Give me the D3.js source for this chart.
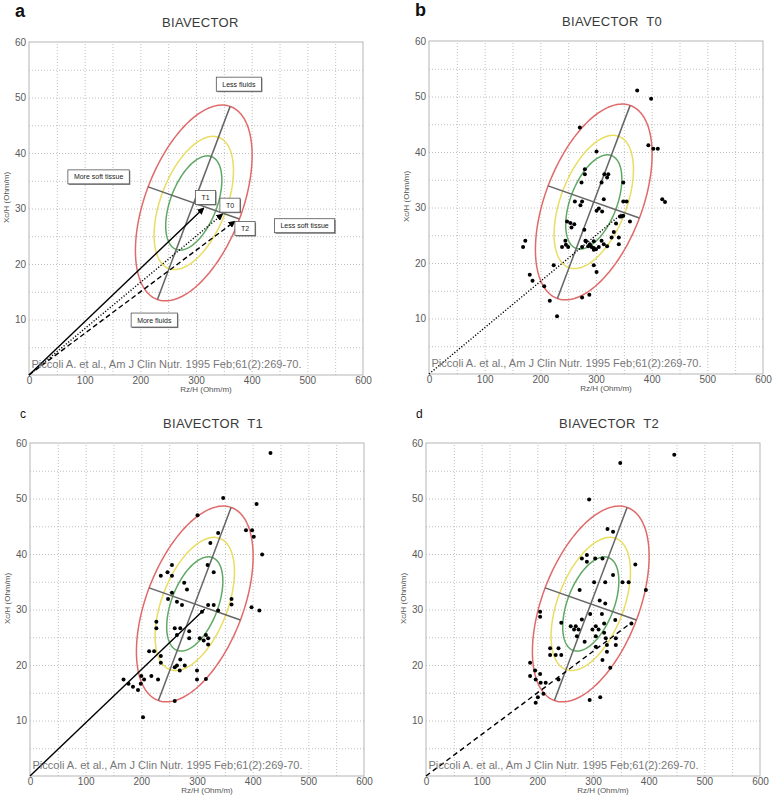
<!DOCTYPE html>
<html lang="en">
<head>
<meta charset="utf-8">
<title>BIAVECTOR</title>
<script src="https://cdn.jsdelivr.net/npm/d3@7"></script>
<style>
body { margin: 0; background: #fff; }
text { font-family: "Liberation Sans", Arial, sans-serif; }
</style>
</head>
<body>
<script>
// reference ellipse (Piccoli) in data units
var ellipseCenter = [296, 31];
var majorAxisEnd = [361.3, 48.4];
var minorAxisEnd = [378, 28.1];
var tolerance = [0.95, 0.75, 0.50];
var toleranceColors = ["#e06a6a", "#e9dd62", "#5fa864"];

// mean vectors
var vectorT0 = [348, 29.0];
var vectorT1 = [314, 30.1];
var vectorT2 = [370, 27.7];

var xTicks = [0, 100, 200, 300, 400, 500, 600];
var yTicks = [10, 20, 30, 40, 50, 60];
var xGrid = [50, 100, 150, 200, 250, 300, 350, 400, 450, 500, 550];
var yGrid = [5, 10, 15, 20, 25, 30, 35, 40, 45, 50, 55];

var pointsT0 = [
	[374, 51.1], [399, 49.6], [271, 44.4], [394, 41.2], [403, 40.6], [411, 40.6], [301, 40.1],
	[280, 36.9], [280, 36.0], [315, 36.0], [322, 36.0], [320, 35.4], [310, 34.5], [274, 34.5],
	[349, 34.5], [314, 31.5], [262, 31.1], [275, 31.1], [272, 30.4], [349, 31.1], [355, 31.1],
	[419, 31.5], [424, 31.0], [301, 29.4], [305, 29.8], [311, 29.3], [248, 27.5], [254, 27.2],
	[261, 27.0], [256, 26.4], [279, 26.0], [343, 28.4], [346, 28.4], [349, 28.5], [361, 27.5],
	[336, 27.1], [332, 25.6], [328, 24.6], [341, 24.6], [341, 23.4], [245, 24.0], [246, 23.3],
	[250, 22.9], [239, 22.9], [275, 22.9], [281, 24.0], [286, 23.0], [289, 23.4], [292, 22.9],
	[296, 23.9], [296, 22.7], [305, 22.9], [310, 24.0], [314, 23.4], [296, 22.4], [169, 22.9],
	[173, 24.0], [224, 19.6], [296, 19.6], [301, 18.4], [181, 17.9], [186, 16.8], [207, 15.8],
	[217, 13.2], [275, 13.8], [288, 14.3], [230, 10.4], [282, 23.9], [300, 22.5], [320, 23.0]
];
var pointsT1 = [
	[432, 58.2], [347, 50.1], [407, 49.0], [301, 47.0], [388, 44.3], [399, 44.3], [402, 43.1],
	[338, 43.8], [324, 42.0], [417, 39.9], [255, 38.0], [319, 38.0], [247, 36.7], [255, 36.1],
	[235, 36.1], [330, 36.7], [277, 34.8], [282, 33.6], [255, 33.0], [248, 31.9], [264, 31.4],
	[273, 30.8], [320, 30.8], [330, 30.8], [362, 31.9], [362, 30.9], [398, 30.4], [412, 29.8],
	[338, 29.8], [309, 29.6], [227, 27.8], [227, 26.6], [260, 26.6], [270, 26.6], [286, 26.1],
	[286, 24.8], [305, 24.8], [312, 24.4], [316, 25.4], [320, 24.8], [320, 23.7], [264, 25.4],
	[214, 22.5], [223, 22.5], [235, 21.6], [235, 20.4], [270, 21.0], [269, 19.0], [264, 19.9],
	[260, 19.6], [278, 19.9], [300, 19.0], [300, 17.4], [316, 17.5], [218, 18.0], [230, 17.4],
	[200, 18.0], [205, 17.4], [168, 17.4], [177, 16.6], [185, 16.1], [194, 15.5], [199, 16.6],
	[260, 13.5], [203, 10.6]
];
var pointsT2 = [
	[446, 57.9], [349, 56.4], [293, 49.8], [326, 44.5], [336, 44.0], [289, 39.8], [280, 39.2],
	[289, 38.6], [304, 39.2], [317, 39.2], [376, 38.1], [336, 36.2], [302, 34.9], [322, 34.9],
	[353, 34.9], [364, 34.9], [276, 33.5], [395, 33.5], [312, 31.6], [322, 31.1], [205, 29.6],
	[205, 28.7], [295, 29.2], [316, 29.2], [340, 28.1], [369, 27.5], [243, 27.6], [260, 27.0],
	[269, 27.0], [266, 26.4], [274, 26.4], [280, 28.2], [271, 25.2], [299, 26.4], [305, 27.0],
	[310, 26.4], [320, 27.5], [320, 25.8], [305, 25.2], [285, 24.2], [323, 24.8], [341, 24.8],
	[341, 23.6], [325, 23.6], [305, 23.3], [325, 22.4], [223, 23.0], [238, 23.0], [223, 21.8],
	[233, 21.8], [243, 21.8], [317, 20.9], [331, 19.5], [187, 20.4], [187, 18.0], [196, 19.0],
	[197, 17.4], [205, 18.4], [206, 16.8], [215, 16.8], [238, 17.4], [211, 14.8], [201, 14.2],
	[197, 13.2], [294, 13.7], [313, 14.2]
];

var annotations = [
	{ text: "Less fluids", x: 377, y: 52.4 },
	{ text: "More soft tissue", x: 125, y: 35.7 },
	{ text: "T1", x: 317, y: 32.0 },
	{ text: "T0", x: 361, y: 30.6 },
	{ text: "T2", x: 388, y: 26.4 },
	{ text: "Less soft tissue", x: 495, y: 26.9 },
	{ text: "More fluids", x: 225, y: 9.9 }
];

var citation = "Piccoli A. et al., Am J Clin Nutr. 1995 Feb;61(2):269-70.";

var panels = [
	{ letter: "a", bold: true, title: "BIAVECTOR", left: 29, top: 42, points: [],
	  vectors: [{ v: vectorT1, dash: null }, { v: vectorT0, dash: "1.2,1.8" }, { v: vectorT2, dash: "5,3" }],
	  arrows: true, notes: true },
	{ letter: "b", bold: true, title: "BIAVECTOR  T0", left: 429, top: 41, points: pointsT0,
	  vectors: [{ v: vectorT0, dash: "1.2,1.8" }], arrows: false, notes: false },
	{ letter: "c", bold: false, title: "BIAVECTOR  T1", left: 30, top: 443, points: pointsT1,
	  vectors: [{ v: vectorT1, dash: null }], arrows: false, notes: false },
	{ letter: "d", bold: false, title: "BIAVECTOR  T2", left: 426, top: 443, points: pointsT2,
	  vectors: [{ v: vectorT2, dash: "5,3.5" }], arrows: false, notes: false }
];

var W = 778, H = 801, pw = 334, ph = 333;

var svg = d3.select("body").append("svg")
	.attr("width", W)
	.attr("height", H);

svg.append("rect").attr("width", W).attr("height", H).attr("fill", "white");

svg.append("defs").append("marker")
	.attr("id", "arrow")
	.attr("viewBox", "0 0 10 10")
	.attr("refX", 9).attr("refY", 5)
	.attr("markerWidth", 5).attr("markerHeight", 5)
	.attr("orient", "auto")
	.append("path")
	.attr("d", "M0,0 L10,5 L0,10 z")
	.attr("fill", "black");

var chi95 = Math.sqrt(-2 * Math.log(1 - tolerance[0]));

panels.forEach(function(p) {
	var x = d3.scaleLinear().domain([0, 600]).range([0, pw]);
	var y = d3.scaleLinear().domain([0, 60]).range([ph, 0]);
	var g = svg.append("g").attr("transform", "translate(" + p.left + "," + p.top + ")");

	// panel letter and title
	svg.append("text")
		.attr("x", p.bold ? p.left - 14 : p.left - 10)
		.attr("y", p.top - 25)
		.attr("font-size", p.bold ? 18 : 12)
		.attr("font-weight", p.bold ? "bold" : "normal")
		.attr("fill", "#111")
		.text(p.letter);
	g.append("text")
		.attr("x", 133)
		.attr("y", -15.5)
		.attr("font-size", 13)
		.attr("letter-spacing", 0.3)
		.attr("fill", "#3a3a3a")
		.style("white-space", "pre")
		.text(p.title);

	// grid
	g.append("g")
		.attr("transform", "translate(0," + ph + ")")
		.call(d3.axisBottom(x).tickValues(xGrid).tickSize(-ph).tickFormat(""))
		.call(function(a) { a.select(".domain").remove(); })
		.selectAll("line").attr("stroke", "#c0c0c0").attr("stroke-dasharray", "1,2");
	g.append("g")
		.call(d3.axisLeft(y).tickValues(yGrid).tickSize(-pw).tickFormat(""))
		.call(function(a) { a.select(".domain").remove(); })
		.selectAll("line").attr("stroke", "#c0c0c0").attr("stroke-dasharray", "1,2");

	g.append("rect")
		.attr("width", pw).attr("height", ph)
		.attr("fill", "none").attr("stroke", "#b5b5b5");

	// tick labels
	var xa = g.append("g")
		.attr("transform", "translate(0," + ph + ")")
		.call(d3.axisBottom(x).tickValues(xTicks).tickSize(0).tickPadding(2));
	xa.select(".domain").remove();
	xa.selectAll("text").attr("font-size", 10).attr("font-family", null).attr("fill", "#5a5a5a");
	var ya = g.append("g")
		.call(d3.axisLeft(y).tickValues(yTicks).tickSize(0).tickPadding(3));
	ya.select(".domain").remove();
	ya.selectAll("text").attr("font-size", 10).attr("font-family", null).attr("fill", "#5a5a5a");

	g.append("text")
		.attr("x", pw / 2 + 10).attr("y", ph + 17)
		.attr("text-anchor", "middle")
		.attr("font-size", 8).attr("fill", "#555")
		.text("Rz/H (Ohm/m)");
	g.append("text")
		.attr("transform", "translate(-20," + (ph / 2 - 11) + ") rotate(-90)")
		.attr("text-anchor", "middle")
		.attr("font-size", 8).attr("fill", "#555")
		.text("Xc/H (Ohm/m)");

	// tolerance ellipses
	var c = ellipseCenter;
	var M = [majorAxisEnd[0] - c[0], majorAxisEnd[1] - c[1]];
	var N = [minorAxisEnd[0] - c[0], minorAxisEnd[1] - c[1]];
	var ts = d3.range(0, 2 * Math.PI, Math.PI / 90);
	tolerance.forEach(function(t, i) {
		var k = Math.sqrt(-2 * Math.log(1 - t)) / chi95;
		var line = d3.line()
			.x(function(a) { return x(c[0] + k * (Math.cos(a) * M[0] + Math.sin(a) * N[0])); })
			.y(function(a) { return y(c[1] + k * (Math.cos(a) * M[1] + Math.sin(a) * N[1])); })
			.curve(d3.curveLinearClosed);
		g.append("path")
			.attr("d", line(ts))
			.attr("fill", "none")
			.attr("stroke", toleranceColors[i])
			.attr("stroke-width", 1.5);
	});
	// axes of the 95% ellipse
	[M, N].forEach(function(v) {
		g.append("line")
			.attr("x1", x(c[0] - v[0])).attr("y1", y(c[1] - v[1]))
			.attr("x2", x(c[0] + v[0])).attr("y2", y(c[1] + v[1]))
			.attr("stroke", "#666").attr("stroke-width", 1.5);
	});

	// vectors
	p.vectors.forEach(function(d) {
		g.append("line")
			.attr("x1", x(0)).attr("y1", y(0))
			.attr("x2", x(d.v[0])).attr("y2", y(d.v[1]))
			.attr("stroke", "black")
			.attr("stroke-width", 1.4)
			.attr("stroke-dasharray", d.dash)
			.attr("marker-end", p.arrows ? "url(#arrow)" : null);
	});

	// subjects
	g.selectAll("circle.pt")
		.data(p.points)
		.enter()
		.append("circle")
		.attr("class", "pt")
		.attr("cx", function(d) { return x(d[0]); })
		.attr("cy", function(d) { return y(d[1]); })
		.attr("r", 2)
		.attr("fill", "black");

	// boxed annotations
	if (p.notes) {
		annotations.forEach(function(a) {
			var ng = g.append("g").attr("transform", "translate(" + x(a.x) + "," + y(a.y) + ")");
			var t = ng.append("text")
				.attr("text-anchor", "middle")
				.attr("dy", "0.35em")
				.attr("font-size", 7)
				.attr("fill", "#222")
				.text(a.text);
			var bw = t.node().getComputedTextLength() + 12, bh = 14;
			ng.insert("rect", "text")
				.attr("x", -bw / 2 + 1).attr("y", -bh / 2 + 1)
				.attr("width", bw).attr("height", bh)
				.attr("fill", "#777");
			ng.insert("rect", "text")
				.attr("x", -bw / 2).attr("y", -bh / 2)
				.attr("width", bw).attr("height", bh)
				.attr("fill", "white").attr("stroke", "#555").attr("stroke-width", 0.8);
		});
	}

	g.append("text")
		.attr("x", 2.5).attr("y", ph - 7)
		.attr("font-size", 11)
		.attr("fill", "#777")
		.attr("textLength", 270)
		.attr("lengthAdjust", "spacingAndGlyphs")
		.text(citation);
});
</script>
</body>
</html>
